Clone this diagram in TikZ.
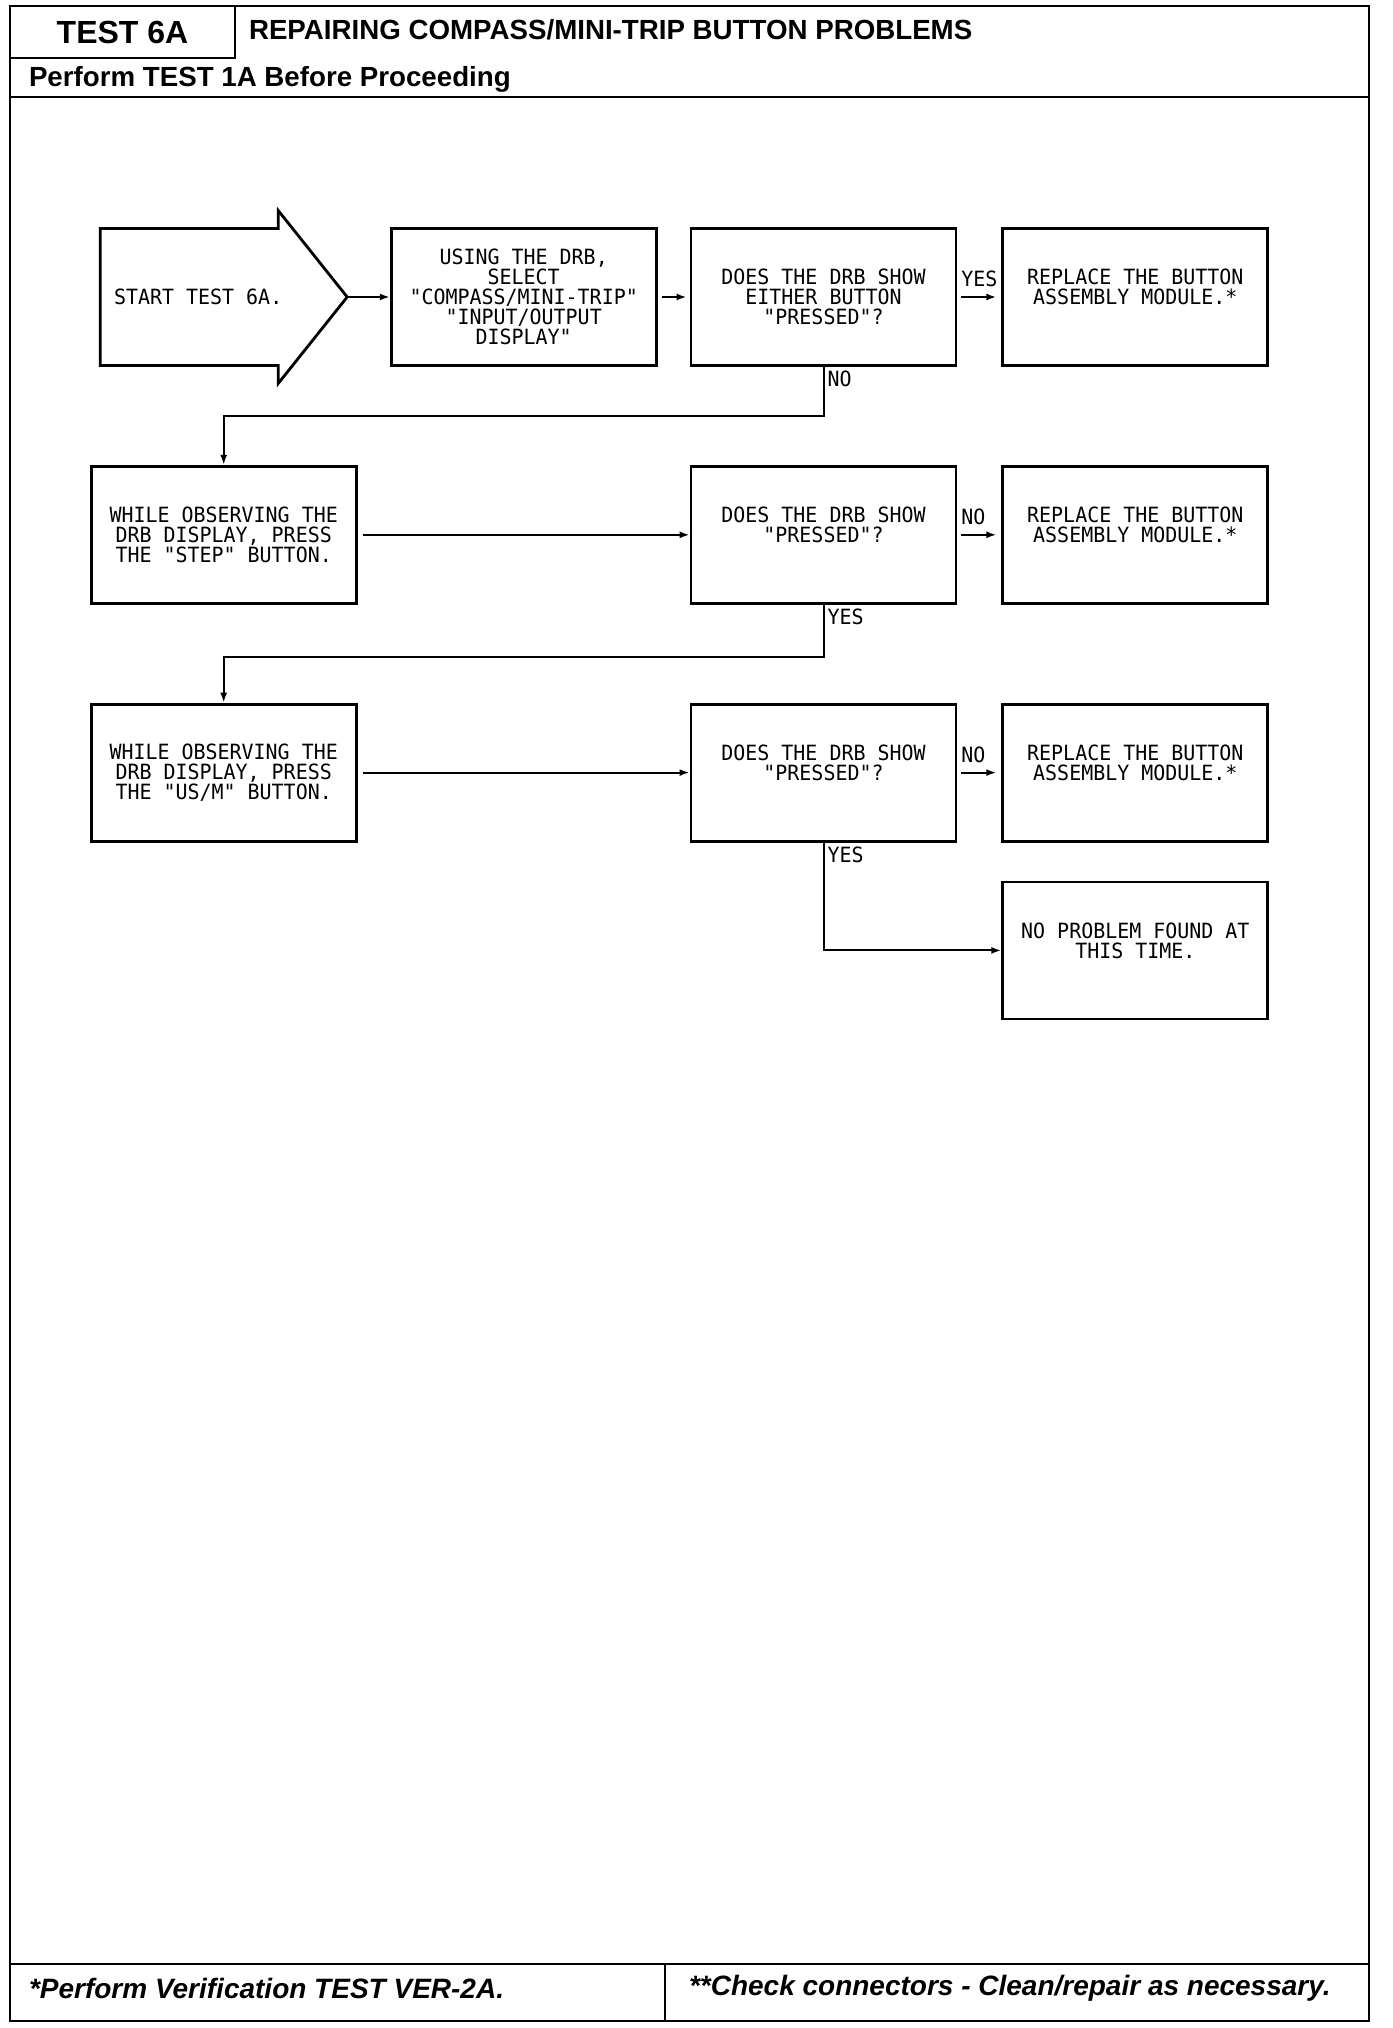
\documentclass[tikz,border=0pt]{standalone}
\usepackage{fontspec}
\setmainfont{Liberation Sans}
\newfontfamily\plotfont[FakeStretch=0.95]{DejaVu Sans Mono}
\usetikzlibrary{positioning,arrows.meta,calc}

\begin{document}
\begin{tikzpicture}[x=1pt, y=1pt, line width=2pt,
          box/.style={draw, line width=2.8pt, minimum width=265pt,
                      minimum height=137pt, align=center, inner sep=0pt,
                      font=\plotfont\fontsize{21}{20}\selectfont},
          lbl/.style={font=\plotfont\fontsize{21}{20}\selectfont, inner sep=3pt},
          flow/.style={line width=2pt, -{Latex[length=10pt, width=7pt]}},
          head/.style={font=\bfseries\fontsize{27.7}{30}\selectfont,
                       anchor=west, inner sep=0pt}]
  \useasboundingbox (0,0) rectangle (1392,-2028);
  % page frame
  \draw (10,-6) rectangle (1369,-2021);
  \draw (10,-58) -- (235,-58) -- (235,-6);
  \draw (10,-97) -- (1369,-97);
  \draw (10,-1964) -- (1369,-1964);
  \draw (665,-1964) -- (665,-2021);
  \node[head, anchor=center, font=\bfseries\fontsize{32}{34}\selectfont]
    (tid) at (122.5,-32) {TEST 6A};
  \node[head] (title) at (248,-30) {REPAIRING COMPASS/MINI-TRIP BUTTON PROBLEMS};
  \node[head] (pre) at (28,-79) {Perform TEST 1A Before Proceeding};
  \node[head, font=\bfseries\itshape\fontsize{28}{30}\selectfont]
    (foot1) at (28,-1988) {*Perform Verification TEST VER-2A.};
  \node[head, font=\bfseries\itshape\fontsize{28}{30}\selectfont]
    (foot2) at (688,-1988) {**Check connectors - Clean/repair as necessary.};

  % first row
  \node[box] (q1) at (823.5,-297) {DOES THE DRB SHOW\\EITHER BUTTON\\"PRESSED"?};
  \node[box, left=32pt of q1] (sel)
    {USING THE DRB,\\SELECT\\"COMPASS/MINI-TRIP"\\"INPUT/OUTPUT\\DISPLAY"};
  \node[box, right=44pt of q1] (rep1) {REPLACE THE BUTTON\\ASSEMBLY MODULE.*\\\mbox{}};
  \coordinate (tip) at ($(sel.west)+(-42.6,0)$);
  \draw[line width=2.8pt] (tip) -- ++(-69,86.5) -- ++(0,-18) -- ++(-178,0)
    -- ++(0,-137) -- ++(178,0) -- ++(0,-18) -- cycle;
  \node[lbl] (start) at ($(tip)+(-149,0)$) {START TEST 6A.};
  \draw[flow] (tip) -- (sel);
  \draw[flow, shorten <=4pt, shorten >=3pt] (sel) -- (q1);
  \draw[flow, shorten <=4pt, shorten >=5pt] (q1) --
    node[lbl, pos=0, anchor=south west, yshift=6pt] (y1) {YES} (rep1);

  % second row
  \node[box, below=98pt of q1] (q2) {DOES THE DRB SHOW\\"PRESSED"?\\\mbox{}};
  \node[box, right=44pt of q2] (rep2) {REPLACE THE BUTTON\\ASSEMBLY MODULE.*\\\mbox{}};
  \node[box, left=332pt of q2] (obs1)
    {WHILE OBSERVING THE\\DRB DISPLAY, PRESS\\THE "STEP" BUTTON.};
  \draw[flow] (q1.south) -- node[lbl, pos=0, anchor=north west] (n1) {NO}
    ++(0,-49) -| (obs1.north);
  \draw[flow, shorten <=5pt] (obs1) -- (q2);
  \draw[flow, shorten <=4pt, shorten >=5pt] (q2) --
    node[lbl, pos=0, anchor=south west, yshift=6pt] (n2) {NO} (rep2);

  % third row
  \node[box, below=98pt of q2] (q3) {DOES THE DRB SHOW\\"PRESSED"?\\\mbox{}};
  \node[box, right=44pt of q3] (rep3) {REPLACE THE BUTTON\\ASSEMBLY MODULE.*\\\mbox{}};
  \node[box, left=332pt of q3] (obs2)
    {WHILE OBSERVING THE\\DRB DISPLAY, PRESS\\THE "US/M" BUTTON.};
  \node[box, below=38pt of rep3] (ok) {NO PROBLEM FOUND AT\\THIS TIME.\\\mbox{}};
  \draw[flow] (q2.south) -- node[lbl, pos=0, anchor=north west] (y2) {YES}
    ++(0,-52) -| (obs2.north);
  \draw[flow, shorten <=5pt] (obs2) -- (q3);
  \draw[flow, shorten <=4pt, shorten >=5pt] (q3) --
    node[lbl, pos=0, anchor=south west, yshift=6pt] (n3) {NO} (rep3);
  \draw[flow] (q3.south) |- node[lbl, pos=0, anchor=north west] (y3) {YES} (ok.west);
\end{tikzpicture}
\end{document}
